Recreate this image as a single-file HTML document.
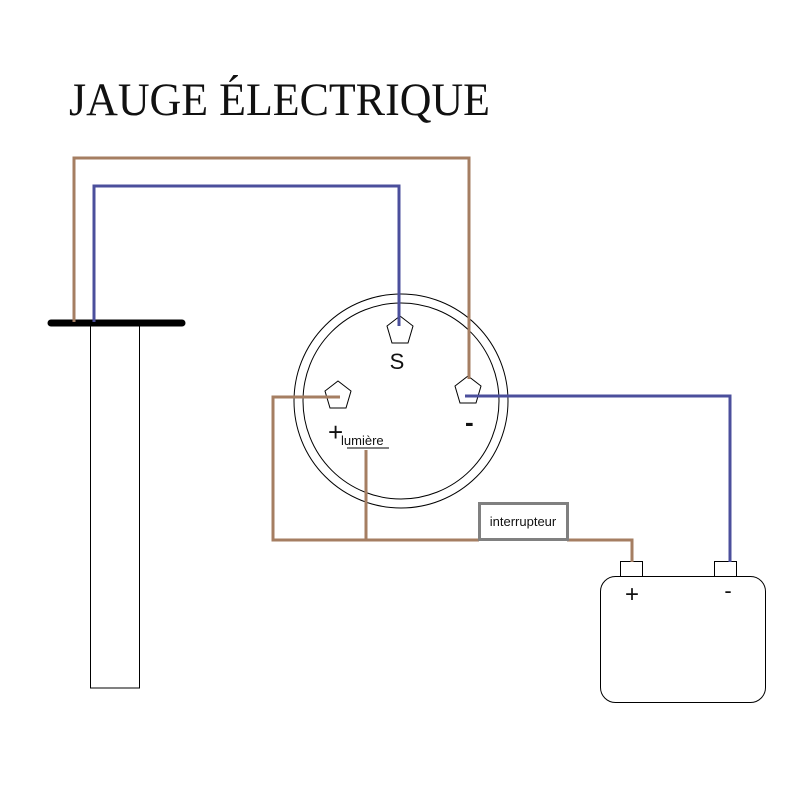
<!DOCTYPE html>
<html><head><meta charset="utf-8"><style>html,body{margin:0;padding:0;background:#fff}svg{display:block}</style></head>
<body>
<svg width="800" height="800" viewBox="0 0 800 800" xmlns="http://www.w3.org/2000/svg">
<rect width="800" height="800" fill="#fff"/>
<text x="69" y="115" font-family="Liberation Serif, serif" font-size="47" textLength="421" lengthAdjust="spacingAndGlyphs" fill="#111">JAUGE ÉLECTRIQUE</text>
<!-- tank -->
<rect x="90.5" y="323" width="49" height="365" fill="#fff" stroke="#000" stroke-width="1"/>
<line x1="51" y1="323" x2="182" y2="323" stroke="#000" stroke-width="7" stroke-linecap="round"/>
<!-- gauge -->
<circle cx="401" cy="401" r="107" fill="none" stroke="#000" stroke-width="1"/>
<circle cx="401" cy="401" r="98" fill="none" stroke="#000" stroke-width="1"/>
<g fill="#fff" stroke="#000" stroke-width="1">
<polygon points="400,316 413,326 408,343 392,343 387,326"/>
<polygon points="338,381 351,391 346,408 330,408 325,391"/>
<polygon points="468,376 481,386 476,403 460,403 455,386"/>
</g>
<!-- wires -->
<g fill="none" stroke-width="3" stroke-linejoin="miter">
<polyline points="74,322 74,158 469,158 469,379" stroke="#a57e62"/>
<polyline points="94,322 94,186 399,186 399,326" stroke="#4b4f9c"/>
<polyline points="465,396 730,396 730,562" stroke="#4b4f9c"/>
<polyline points="340,397 273,397 273,540 479,540" stroke="#a57e62"/>
<polyline points="567,540 632,540 632,562" stroke="#a57e62"/>
<line x1="366" y1="450" x2="366" y2="540" stroke="#a57e62"/>
</g>
<line x1="347" y1="448" x2="389" y2="448" stroke="#000" stroke-width="1"/>
<text x="397" y="369" font-family="Liberation Sans, sans-serif" font-size="22" fill="#111" text-anchor="middle">S</text>
<text x="328" y="441" font-family="Liberation Sans, sans-serif" font-size="26" fill="#111">+</text>
<text x="341" y="445" font-family="Liberation Sans, sans-serif" font-size="13" fill="#111">lumière</text>
<text x="465" y="431" font-family="Liberation Sans, sans-serif" font-size="26" font-weight="bold" fill="#111">-</text>
<!-- interrupteur -->
<rect x="479.5" y="503.5" width="88" height="36" fill="#fff" stroke="#808080" stroke-width="3"/>
<text x="523" y="526" font-family="Liberation Sans, sans-serif" font-size="13" fill="#111" text-anchor="middle">interrupteur</text>
<!-- battery -->
<rect x="620.5" y="561.5" width="22" height="15" fill="#fff" stroke="#000" stroke-width="1"/>
<rect x="714.5" y="561.5" width="22" height="15" fill="#fff" stroke="#000" stroke-width="1"/>
<line x1="632" y1="558" x2="632" y2="562" stroke="#a57e62" stroke-width="3"/>
<line x1="730" y1="558" x2="730" y2="562" stroke="#4b4f9c" stroke-width="3"/>
<rect x="600.5" y="576.5" width="165" height="126" rx="15" fill="#fff" stroke="#000" stroke-width="1"/>
<text x="632" y="602" font-family="Liberation Sans, sans-serif" font-size="24" fill="#111" text-anchor="middle">+</text>
<text x="728" y="598" font-family="Liberation Sans, sans-serif" font-size="22" fill="#111" text-anchor="middle">-</text>
</svg>
</body></html>
